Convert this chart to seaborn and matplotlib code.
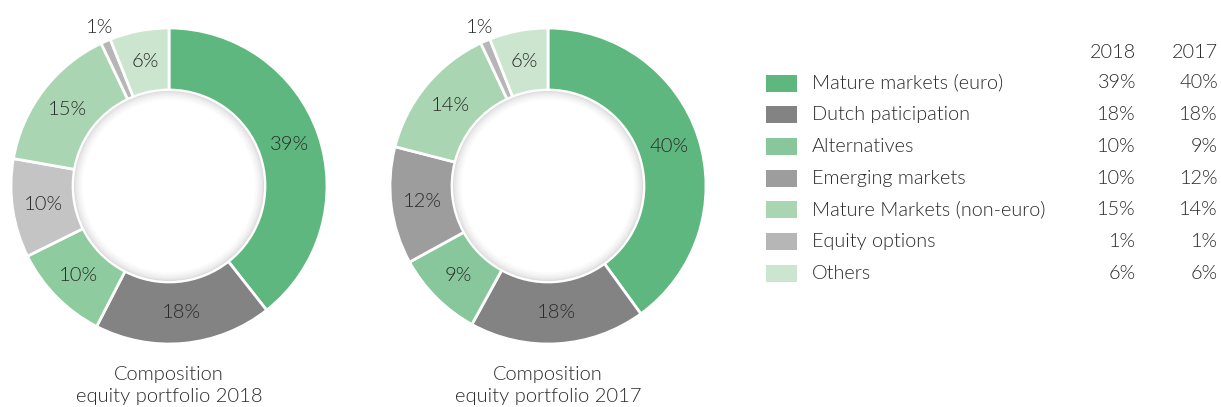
import numpy as np
import matplotlib
matplotlib.use("Agg")
import matplotlib.pyplot as plt
from matplotlib.patches import Rectangle, Circle
import seaborn as sns

sns.set_theme(style="white")
plt.rcParams["font.family"] = ["Lato", "DejaVu Sans"]

# data
categories = ["Mature markets (euro)", "Dutch paticipation", "Alternatives",
              "Emerging markets", "Mature Markets (non-euro)", "Equity options", "Others"]
share_2018 = [39, 18, 10, 10, 15, 1, 6]
share_2017 = [40, 18, 9, 12, 14, 1, 6]
years = ["2018", "2017"]
captions = ["Composition\nequity portfolio 2018", "Composition\nequity portfolio 2017"]

legend_colors = ["#5db77f", "#838383", "#88c79b", "#9d9d9d", "#aad5b2", "#b6b6b6", "#cce5cf"]
colors_2018 = ["#5db77f", "#838383", "#8ecb9e", "#c4c4c4", "#aad5b2", "#b6b6b6", "#cce5cf"]
colors_2017 = ["#5db77f", "#838383", "#88c79b", "#9d9d9d", "#aad5b2", "#b6b6b6", "#cce5cf"]

txt = "#2a2a2a"
FW = 300
W, H = 1221, 407

fig = plt.figure(figsize=(W / 100, H / 100), dpi=100)
ax = fig.add_axes([0, 0, 1, 1])

R_OUT, R_IN = 158, 96
centers = [(169, H - 186), (548, H - 186)]

for vals, cols, (cx, cy), cap in zip([share_2018, share_2017], [colors_2018, colors_2017],
                                     centers, captions):
    wedges, _, autotexts = ax.pie(
        vals, colors=cols, startangle=90, counterclock=False,
        radius=R_OUT, center=(cx, cy), autopct="%1.0f%%",
        pctdistance=(R_OUT + R_IN) / 2 / R_OUT,
        wedgeprops=dict(width=R_OUT - R_IN, edgecolor="white", linewidth=2),
        textprops=dict(color=txt, fontsize=14.5, fontweight=FW))
    for w, t, v in zip(wedges, autotexts, vals):
        t.set_text(f"{v}%")
        if v <= 2:
            ang = np.deg2rad((w.theta1 + w.theta2) / 2)
            t.set_position((cx + 173 * np.cos(ang), cy + 173 * np.sin(ang)))
    # soft inner shadow in the hole
    n = 12
    for i in range(n):
        g = 0.86 + 0.14 * (i / (n - 1)) ** 0.6
        ax.add_patch(Circle((cx, cy), R_IN - 1 - i * 0.8, facecolor=(g, g, g),
                            edgecolor="none", zorder=3))
    ax.add_patch(Circle((cx, cy), R_IN - 1 - n * 0.8, facecolor="white",
                        edgecolor="none", zorder=3))
    ax.text(cx, H - 385.5, cap, ha="center", va="center", fontsize=14.5,
            color=txt, linespacing=1.35, fontweight=FW)

# legend table
row_y = [H - 83 - i * 31.7 for i in range(len(categories))]
ax.text(1136, H - 52, years[0], ha="right", va="center", fontsize=14.3, color=txt, fontweight=FW)
ax.text(1218, H - 52, years[1], ha="right", va="center", fontsize=14.3, color=txt, fontweight=FW)
for y, name, c, a, b in zip(row_y, categories, legend_colors, share_2018, share_2017):
    ax.add_patch(Rectangle((766, y - 8.5), 31, 17, facecolor=c, edgecolor="none"))
    ax.text(812, y, name, ha="left", va="center", fontsize=14.3, color=txt, fontweight=FW)
    ax.text(1136, y, f"{a}%", ha="right", va="center", fontsize=14.3, color=txt, fontweight=FW)
    ax.text(1218, y, f"{b}%", ha="right", va="center", fontsize=14.3, color=txt, fontweight=FW)

ax.set_xlim(0, W)
ax.set_ylim(0, H)
ax.set_aspect("equal")
ax.axis("off")

fig.savefig("out.png", dpi=100)
